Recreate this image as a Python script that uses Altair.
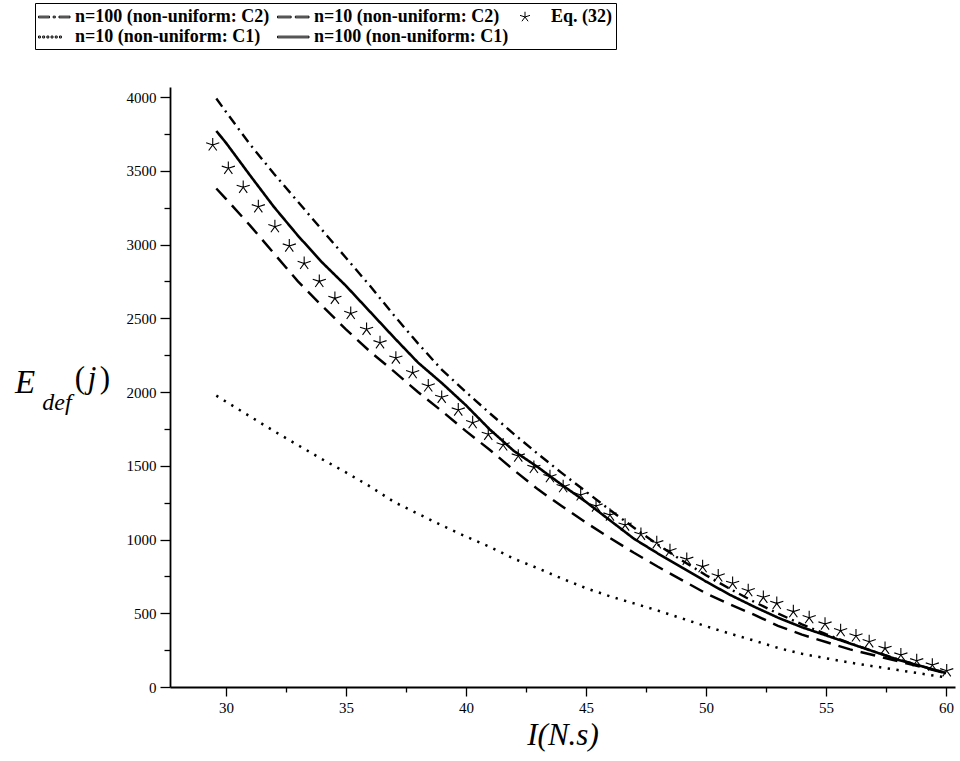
import altair as alt
import pandas as pd

# ---------------- data ----------------
I_line = [29.6, 30, 31, 32, 33, 34, 35, 36, 37, 38, 39, 40, 41, 42, 43, 44,
          45, 46, 47, 48, 49, 50, 51, 52, 53, 54, 55, 56, 57, 58, 59, 60]

E_n100_C2 = [3990, 3900, 3680, 3480, 3290, 3100, 2910, 2720, 2520, 2330,
             2150, 2000, 1855, 1715, 1580, 1450, 1325, 1200, 1080, 965,
             858, 758, 665, 578, 498, 425, 358, 297, 240, 188, 140, 95]
E_n10_C2 = [3380, 3310, 3130, 2940, 2750, 2585, 2425, 2275, 2140, 2000,
            1870, 1735, 1607, 1470, 1340, 1225, 1115, 1010, 910, 815,
            725, 635, 560, 490, 415, 355, 305, 255, 215, 175, 135, 92]
E_n10_C1 = [1975, 1935, 1835, 1735, 1640, 1545, 1455, 1360, 1255, 1175,
            1095, 1020, 950, 870, 805, 735, 670, 615, 567, 518,
            465, 412, 362, 315, 265, 225, 195, 165, 140, 115, 90, 65]
E_n100_C1 = [3770, 3690, 3470, 3255, 3060, 2880, 2720, 2545, 2370, 2200,
             2060, 1910, 1745, 1600, 1490, 1370, 1255, 1130, 1005, 905,
             810, 715, 625, 545, 470, 405, 350, 295, 240, 185, 140, 95]

I_eq32 = [29.45, 30.10, 30.72, 31.35, 32.04, 32.64, 33.26, 33.89, 34.54, 35.20,
          35.86, 36.42, 37.08, 37.78, 38.43, 38.99, 39.68, 40.28, 40.93, 41.55,
          42.18, 42.83, 43.50, 44.05, 44.78, 45.42, 46.00, 46.63, 47.29, 47.95,
          48.50, 49.20, 49.86, 50.51, 51.11, 51.76, 52.39, 52.95, 53.64, 54.30,
          54.96, 55.61, 56.25, 56.80, 57.46, 58.12, 58.78, 59.43, 60.03]
E_eq32 = [3675, 3517, 3388, 3256, 3121, 2990, 2872, 2750, 2635, 2533,
          2425, 2334, 2230, 2131, 2041, 1964, 1878, 1792, 1713, 1641,
          1566, 1489, 1426, 1358, 1302, 1227, 1166, 1098, 1035, 978,
          924, 866, 816, 753, 703, 653, 608, 567, 511, 470,
          427, 382, 346, 307, 262, 217, 178, 149, 110]

S_A = "n=100 (non-uniform: C2)"
S_B = "n=10 (non-uniform: C2)"
S_C = "Eq. (32)"
S_D = "n=10 (non-uniform: C1)"
S_E = "n=100 (non-uniform: C1)"
legend_order = [S_A, S_B, S_C, S_D, S_E]

x_ticks = [30, 32.5, 35, 37.5, 40, 42.5, 45, 47.5, 50, 52.5, 55, 57.5, 60]
y_ticks = [0, 250, 500, 750, 1000, 1250, 1500, 1750, 2000, 2250, 2500, 2750,
           3000, 3250, 3500, 3750, 4000]

# ---------------- tables ----------------
rows = []
for name, ys in [(S_A, E_n100_C2), (S_B, E_n10_C2), (S_D, E_n10_C1), (S_E, E_n100_C1)]:
    for xv, yv in zip(I_line, ys):
        rows.append({"I": xv, "E": yv, "series": name})
lines_df = pd.DataFrame(rows)
stars_df = pd.DataFrame({"I": I_eq32, "E": E_eq32, "series": [S_C] * len(I_eq32)})

# ---------------- styling ----------------
SERIF = "Liberation Serif"

x_enc = alt.X(
    "I:Q",
    scale=alt.Scale(domain=[27.67, 60.375], nice=False, zero=False),
    axis=alt.Axis(
        title="I(N.s)", titleFont=SERIF, titleFontStyle="italic", titleFontWeight="normal",
        titleFontSize=31, titleColor="black", titlePadding=5,
        values=x_ticks, labelExpr="datum.value % 5 === 0 ? '' + datum.value : ''",
        labelFont=SERIF, labelFontSize=15, labelColor="black", labelOverlap=False,
        labelPadding=4,
        tickSize={"condition": {"test": "datum.value % 5 === 0", "value": 9}, "value": 5},
        tickColor="black", tickWidth=1.3, domainColor="black", domainWidth=2, grid=False,
    ),
)
y_enc = alt.Y(
    "E:Q",
    scale=alt.Scale(domain=[0, 4068], nice=False),
    axis=alt.Axis(
        title=None,
        values=y_ticks, labelExpr="datum.value % 500 === 0 ? '' + datum.value : ''",
        labelFont=SERIF, labelFontSize=15, labelColor="black", labelOverlap=False,
        labelPadding=4,
        tickSize={"condition": {"test": "datum.value % 500 === 0", "value": 10}, "value": 6},
        tickColor="black", tickWidth=1.3, domainColor="black", domainWidth=1.8, grid=False,
    ),
)


def bars(segments, h=0.08):
    """Legend glyph made of thin filled bars along y=0 (symbol units)."""
    return "".join(
        f"M{a},{-h}L{b},{-h}L{b},{h}L{a},{h}Z" for a, b in segments
    )


P_DASHDOT = bars([(-1, 0.05), (0.4, 0.6), (0.95, 2)])
P_DASHED = bars([(-1, 0.3), (0.7, 2)])
P_STAR = ("M0,0L0,-0.5M0,0L0.476,-0.155M0,0L0.294,0.405"
          "M0,0L-0.294,0.405M0,0L-0.476,-0.155")
P_DOTTED = bars([(-1, -0.82), (-0.6, -0.42), (-0.2, -0.02), (0.2, 0.38),
                 (0.6, 0.78), (1.0, 1.18)], h=0.09)
P_SOLID = bars([(-1, 2)])

lines = alt.Chart(lines_df).mark_line(color="black").encode(
    x=x_enc,
    y=y_enc,
    detail="series:N",
    strokeDash=alt.StrokeDash(
        "series:N",
        scale=alt.Scale(domain=[S_A, S_B, S_D, S_E],
                        range=[[10, 5, 2, 5], [15, 8], [2.3, 6.5], [1, 0]]),
        legend=None,
    ),
    strokeWidth=alt.StrokeWidth(
        "series:N",
        scale=alt.Scale(domain=[S_A, S_B, S_D, S_E], range=[2.4, 2.6, 2.3, 2.0]),
        legend=None,
    ),
)

stars = alt.Chart(stars_df).mark_point(
    filled=False, color="black", strokeWidth=1.1, opacity=1, size=760
).encode(
    x=x_enc,
    y=y_enc,
    shape=alt.Shape(
        "series:N",
        scale=alt.Scale(domain=legend_order,
                        range=[P_DASHDOT, P_DASHED, P_STAR, P_DOTTED, P_SOLID]),
        legend=alt.Legend(
            title=None, orient="none", legendX=-135, legendY=-84,
            columns=3, direction="horizontal", gridAlign="each",
            labelFont=SERIF, labelFontWeight="bold", labelFontSize=18,
            labelColor="black", labelLimit=600, labelOffset=15,
            symbolSize=441, symbolStrokeWidth=1.0, symbolStrokeColor="black",
            symbolFillColor="black", symbolOpacity=1,
            strokeColor="black", fillColor="white", padding=3,
            columnPadding=5, rowPadding=0,
        ),
    ),
)

one = pd.DataFrame({"k": [0]})


def label(txt, x, y, size, style):
    return alt.Chart(one).mark_text(
        text=txt, font=SERIF, fontStyle=style, fontSize=size, align="center",
        baseline="middle", color="black"
    ).encode(x=alt.value(x), y=alt.value(y))


t_E = label("E", -145, 296, 33, "italic")
t_def = label("def", -113, 316, 24, "italic")
t_lp = label("(", -90, 292, 31, "normal")
t_j = label("j", -78, 292, 31, "italic")
t_rp = label(")", -65, 292, 31, "normal")

chart = alt.layer(lines, stars, t_E, t_def, t_lp, t_j, t_rp).properties(
    width=785,
    height=600,
    autosize=alt.AutoSizeParams(type="none"),
    padding={"left": 170, "top": 87, "right": 5, "bottom": 74},
    background="white",
).configure_view(stroke=None)

chart.save("out.html", embed_options={"renderer": "svg", "actions": False})
